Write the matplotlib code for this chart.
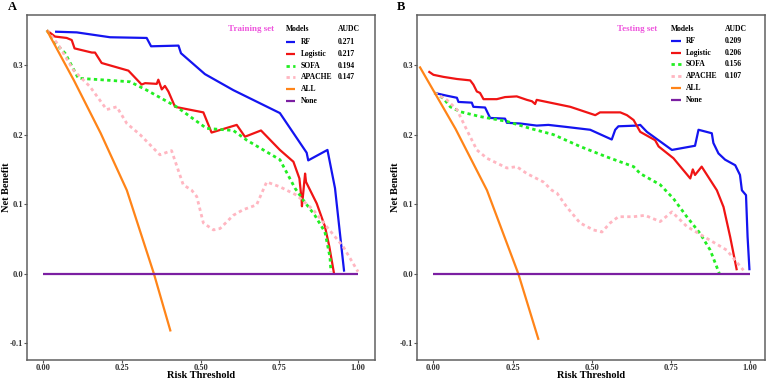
import numpy as np
import matplotlib
matplotlib.use("Agg")
import matplotlib.pyplot as plt

plt.rcParams['font.family'] = ['Liberation Serif', 'DejaVu Serif']
plt.rcParams['font.weight'] = 'bold'

# ---------------- data: training set (panel A) ----------------
a_rf_x = [0.038, 0.107, 0.213, 0.329, 0.343, 0.430, 0.438, 0.514, 0.604, 0.752, 0.837, 0.842, 0.903, 0.927, 0.956]
a_rf_y = [0.348, 0.347, 0.340, 0.339, 0.327, 0.328, 0.317, 0.287, 0.264, 0.231, 0.174, 0.163, 0.178, 0.123, 0.003]

a_log_x = [0.012, 0.038, 0.075, 0.091, 0.100, 0.155, 0.165, 0.186, 0.271, 0.313, 0.324, 0.361, 0.366, 0.377, 0.387,
           0.398, 0.419, 0.509, 0.535, 0.615, 0.641, 0.692, 0.752, 0.795, 0.814, 0.821, 0.822, 0.832, 0.835, 0.869,
           0.895, 0.909, 0.924]
a_log_y = [0.350, 0.341, 0.339, 0.336, 0.324, 0.318, 0.318, 0.303, 0.292, 0.272, 0.274, 0.273, 0.279, 0.265, 0.270,
           0.262, 0.240, 0.232, 0.203, 0.214, 0.197, 0.206, 0.178, 0.161, 0.137, 0.106, 0.097, 0.144, 0.132, 0.101,
           0.068, 0.039, 0.000]

a_sofa_x = [0.012, 0.038, 0.070, 0.112, 0.181, 0.276, 0.329, 0.424, 0.519, 0.604, 0.647, 0.752, 0.800, 0.826, 0.863,
            0.895, 0.911, 0.914]
a_sofa_y = [0.350, 0.332, 0.317, 0.281, 0.279, 0.276, 0.264, 0.240, 0.209, 0.206, 0.192, 0.164, 0.123, 0.106, 0.084,
            0.060, 0.024, 0.003]

a_apache_x = [0.012, 0.049, 0.096, 0.149, 0.202, 0.234, 0.266, 0.308, 0.371, 0.408, 0.445, 0.472, 0.488, 0.509, 0.541,
              0.562, 0.604, 0.635, 0.678, 0.710, 0.752, 0.805, 0.858, 0.900, 0.953, 1.000]
a_apache_y = [0.350, 0.329, 0.293, 0.269, 0.236, 0.240, 0.216, 0.200, 0.171, 0.177, 0.128, 0.120, 0.111, 0.073, 0.063,
              0.065, 0.084, 0.092, 0.099, 0.132, 0.125, 0.113, 0.092, 0.068, 0.039, 0.003]

a_all_x = [0.012, 0.098, 0.183, 0.266, 0.352, 0.405]
a_all_y = [0.350, 0.278, 0.202, 0.120, 0.000, -0.083]

a_none_x = [0.0, 1.0]
a_none_y = [0.0, 0.0]

a_audc = ['0.271', '0.217', '0.194', '0.147', '', '']

# ---------------- data: testing set (panel B) ----------------
b_rf_x = [0.003, 0.042, 0.074, 0.079, 0.121, 0.126, 0.163, 0.179, 0.226, 0.232, 0.274, 0.326, 0.363, 0.421, 0.495,
          0.563, 0.574, 0.584, 0.642, 0.653, 0.674, 0.753, 0.826, 0.837, 0.879, 0.884, 0.900, 0.921, 0.953, 0.968,
          0.974, 0.987, 0.992, 0.998]
b_rf_y = [0.260, 0.256, 0.253, 0.247, 0.246, 0.240, 0.239, 0.224, 0.223, 0.217, 0.216, 0.213, 0.214, 0.211, 0.207,
          0.193, 0.207, 0.212, 0.213, 0.214, 0.204, 0.178, 0.184, 0.207, 0.202, 0.188, 0.173, 0.164, 0.156, 0.142,
          0.120, 0.113, 0.053, 0.005]

b_log_x = [-0.016, 0.000, 0.032, 0.074, 0.116, 0.126, 0.137, 0.147, 0.158, 0.200, 0.226, 0.263, 0.295, 0.311, 0.321,
           0.326, 0.379, 0.432, 0.511, 0.526, 0.590, 0.611, 0.632, 0.653, 0.700, 0.711, 0.758, 0.811, 0.819, 0.826,
           0.847, 0.895, 0.916, 0.937, 0.958]
b_log_y = [0.291, 0.286, 0.283, 0.280, 0.278, 0.272, 0.262, 0.260, 0.251, 0.251, 0.254, 0.255, 0.250, 0.248, 0.244,
           0.250, 0.245, 0.240, 0.228, 0.232, 0.232, 0.228, 0.221, 0.204, 0.192, 0.183, 0.166, 0.137, 0.150, 0.142,
           0.154, 0.120, 0.096, 0.053, 0.005]

b_sofa_x = [0.003, 0.032, 0.053, 0.084, 0.147, 0.232, 0.305, 0.379, 0.463, 0.547, 0.632, 0.653, 0.716, 0.758, 0.800,
            0.842, 0.874, 0.903]
b_sofa_y = [0.260, 0.252, 0.240, 0.233, 0.226, 0.219, 0.209, 0.200, 0.183, 0.168, 0.154, 0.144, 0.128, 0.108, 0.082,
            0.058, 0.034, 0.000]

b_apache_x = [0.003, 0.042, 0.074, 0.105, 0.137, 0.169, 0.232, 0.263, 0.295, 0.347, 0.374, 0.390, 0.421, 0.463, 0.505,
              0.532, 0.558, 0.584, 0.632, 0.668, 0.716, 0.753, 0.800, 0.863, 0.926, 0.979]
b_apache_y = [0.260, 0.250, 0.236, 0.207, 0.178, 0.166, 0.152, 0.154, 0.144, 0.132, 0.120, 0.116, 0.096, 0.073, 0.063,
              0.060, 0.073, 0.082, 0.082, 0.084, 0.075, 0.089, 0.068, 0.051, 0.034, 0.005]

b_all_x = [-0.044, 0.070, 0.169, 0.268, 0.332]
b_all_y = [0.298, 0.208, 0.120, 0.000, -0.095]

b_none_x = [0.0, 1.0]
b_none_y = [0.0, 0.0]

b_audc = ['0.209', '0.206', '0.156', '0.107', '', '']

models = ['RF', 'Logistic', 'SOFA', 'APACHE', 'ALL', 'None']
colors = ['#1414F0', '#F01414', '#22EE22', '#FFB6C1', '#FF8418', '#7B1FA2']
styles = ['-', '-', (0, (1.2, 1.2)), (0, (1.2, 1.2)), '-', '-']

xticks = [0.0, 0.25, 0.5, 0.75, 1.0]
yticks = [-0.1, 0.0, 0.1, 0.2, 0.3]

fig = plt.figure(figsize=(7.67, 3.80), dpi=100)
axA = fig.add_axes([27 / 767, 20 / 380, 348 / 767, 345 / 380])
axB = fig.add_axes([417 / 767, 20 / 380, 348 / 767, 345 / 380])

panels = [
    (axA, [(a_rf_x, a_rf_y), (a_log_x, a_log_y), (a_sofa_x, a_sofa_y), (a_apache_x, a_apache_y),
           (a_all_x, a_all_y), (a_none_x, a_none_y)], a_audc, 'Training set', (-0.051, 1.054), -0.058,
     dict(title_x=0.644, models_x=0.744, line_x0=0.744, line_x1=0.770, label_x=0.787, val_x=0.894, row0=0.922)),
    (axB, [(b_rf_x, b_rf_y), (b_log_x, b_log_y), (b_sofa_x, b_sofa_y), (b_apache_x, b_apache_y),
           (b_all_x, b_all_y), (b_none_x, b_none_y)], b_audc, 'Testing set', (-0.052, 1.047), -0.062,
     dict(title_x=0.632, models_x=0.730, line_x0=0.730, line_x1=0.759, label_x=0.773, val_x=0.885, row0=0.925)),
]

for ax, series, audc, setname, xlim, ylab_x, lg in panels:
    # models first, then ALL, then None
    for (xs, ys), c, ls in zip(series, colors, styles):
        lw = 2.0 if isinstance(ls, tuple) else 1.6
        ax.plot(xs, ys, color=c, ls=ls, lw=lw, solid_capstyle='butt')
    ax.set_xlim(*xlim)
    ax.set_ylim(-0.124, 0.372)
    ax.set_xticks(xticks)
    ax.set_xticklabels(['0.00', '0.25', '0.50', '0.75', '1.00'])
    ax.set_yticks(yticks)
    ax.set_yticklabels(['-0.1', '0.0', '0.1', '0.2', '0.3'])
    ax.tick_params(labelsize=6, length=2, width=0.8, color='#555555', labelcolor='#333333', pad=0.8)
    for s in ax.spines.values():
        s.set_color('#606060')
        s.set_linewidth(1.1)
    ax.set_xlabel('Risk Threshold', fontsize=7.5, fontweight='bold')
    ax.xaxis.set_label_coords(0.5, -0.046)
    ax.xaxis.label.set_va('center')
    ax.set_ylabel('Net Benefit', fontsize=7.5, fontweight='bold')
    ax.yaxis.set_label_coords(ylab_x, 0.5)
    ax.yaxis.label.set_va('center')

    # legend table
    ax.text(lg['title_x'], 0.959, setname, transform=ax.transAxes, color='#EE55DD', fontsize=6.5,
            fontweight='bold', ha='center', va='center')
    ax.text(lg['models_x'], 0.959, 'Models', transform=ax.transAxes, fontsize=5.5, fontweight='bold',
            ha='left', va='center')
    ax.text(lg['val_x'], 0.959, 'AUDC', transform=ax.transAxes, fontsize=5.5, fontweight='bold',
            ha='left', va='center')
    for i, (m, c, ls, v) in enumerate(zip(models, colors, styles, audc)):
        yy = lg['row0'] - i * 0.0342
        ax.plot([lg['line_x0'], lg['line_x1']], [yy, yy], transform=ax.transAxes, color=c, ls=ls,
                lw=2.0 if isinstance(ls, tuple) else 1.6, solid_capstyle='butt')
        ax.text(lg['label_x'], yy, m, transform=ax.transAxes, fontsize=5.5, fontweight='bold',
                ha='left', va='center')
        if v:
            ax.text(lg['val_x'], yy, v, transform=ax.transAxes, fontsize=5.5, fontweight='bold',
                    ha='left', va='center')

fig.text(12 / 767, 1 - 7 / 380, 'A', fontsize=9, fontweight='bold', ha='center', va='center')
fig.text(401 / 767, 1 - 7 / 380, 'B', fontsize=9, fontweight='bold', ha='center', va='center')

fig.savefig('out.png', dpi=100)
